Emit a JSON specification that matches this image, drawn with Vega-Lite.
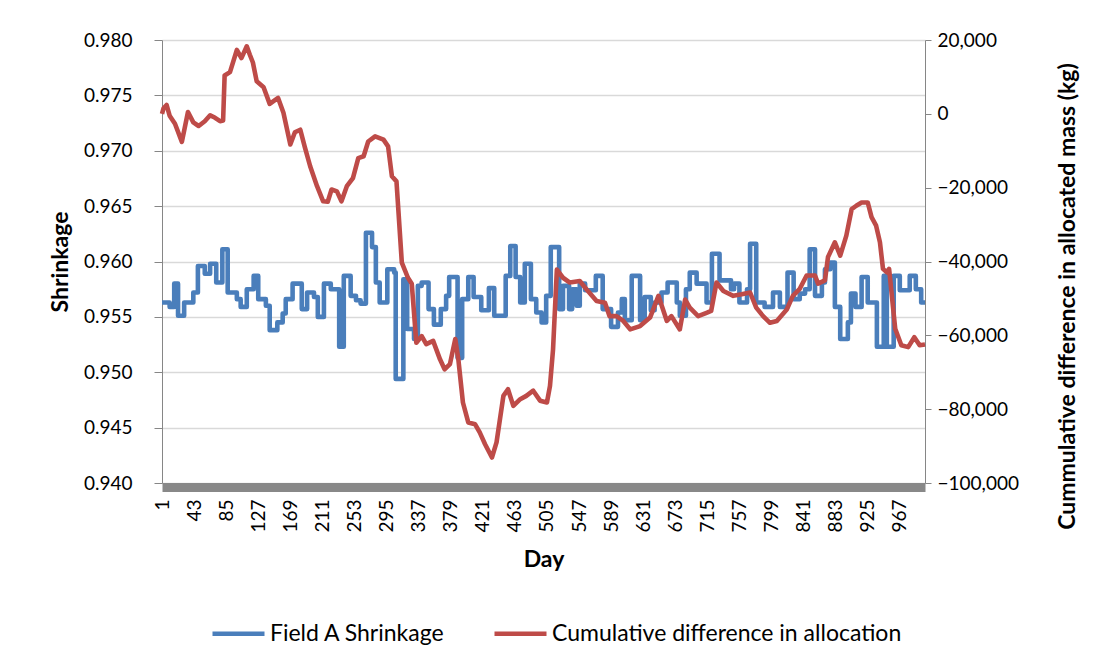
{
  "$schema": "https://vega.github.io/schema/vega-lite/v6.json",
  "width": 763,
  "height": 443,
  "autosize": {"type": "none"},
  "padding": {"left": 162, "top": 40, "right": 180, "bottom": 185},
  "background": "white",
  "config": {
    "font": "Lato",
    "view": {"stroke": null},
    "axis": {"labelColor": "#000000", "titleColor": "#000000"}
  },
  "datasets": {
    "shrink": [
      {"day": 1, "shrinkage": 0.9563}, {"day": 11, "shrinkage": 0.9559}, {"day": 17, "shrinkage": 0.958},
      {"day": 22, "shrinkage": 0.9551}, {"day": 30, "shrinkage": 0.9563}, {"day": 42, "shrinkage": 0.9572},
      {"day": 48, "shrinkage": 0.9596}, {"day": 57, "shrinkage": 0.9589}, {"day": 64, "shrinkage": 0.9598},
      {"day": 72, "shrinkage": 0.9581}, {"day": 80, "shrinkage": 0.9611}, {"day": 87, "shrinkage": 0.9572},
      {"day": 99, "shrinkage": 0.9566}, {"day": 104, "shrinkage": 0.9559}, {"day": 112, "shrinkage": 0.9575},
      {"day": 121, "shrinkage": 0.9587}, {"day": 127, "shrinkage": 0.9566}, {"day": 137, "shrinkage": 0.956},
      {"day": 142, "shrinkage": 0.9538}, {"day": 152, "shrinkage": 0.9545}, {"day": 159, "shrinkage": 0.9553},
      {"day": 163, "shrinkage": 0.9566}, {"day": 172, "shrinkage": 0.958}, {"day": 184, "shrinkage": 0.9557},
      {"day": 191, "shrinkage": 0.9572}, {"day": 200, "shrinkage": 0.9568}, {"day": 205, "shrinkage": 0.955},
      {"day": 213, "shrinkage": 0.958}, {"day": 222, "shrinkage": 0.9575}, {"day": 233, "shrinkage": 0.9523},
      {"day": 239, "shrinkage": 0.9587}, {"day": 248, "shrinkage": 0.9569}, {"day": 255, "shrinkage": 0.9565},
      {"day": 261, "shrinkage": 0.9562}, {"day": 268, "shrinkage": 0.9626}, {"day": 276, "shrinkage": 0.9613},
      {"day": 281, "shrinkage": 0.9581}, {"day": 286, "shrinkage": 0.9563}, {"day": 296, "shrinkage": 0.9593},
      {"day": 305, "shrinkage": 0.959}, {"day": 307, "shrinkage": 0.9494}, {"day": 317, "shrinkage": 0.9584},
      {"day": 322, "shrinkage": 0.9539}, {"day": 331, "shrinkage": 0.953}, {"day": 336, "shrinkage": 0.9578},
      {"day": 341, "shrinkage": 0.9581}, {"day": 350, "shrinkage": 0.9557}, {"day": 357, "shrinkage": 0.9543},
      {"day": 366, "shrinkage": 0.9557}, {"day": 373, "shrinkage": 0.9569}, {"day": 377, "shrinkage": 0.9586},
      {"day": 388, "shrinkage": 0.9513}, {"day": 394, "shrinkage": 0.9566}, {"day": 402, "shrinkage": 0.9586},
      {"day": 409, "shrinkage": 0.9568}, {"day": 419, "shrinkage": 0.9556}, {"day": 429, "shrinkage": 0.9576},
      {"day": 436, "shrinkage": 0.9551}, {"day": 451, "shrinkage": 0.9587}, {"day": 457, "shrinkage": 0.9614},
      {"day": 464, "shrinkage": 0.9586}, {"day": 470, "shrinkage": 0.9563}, {"day": 476, "shrinkage": 0.9598},
      {"day": 484, "shrinkage": 0.9566}, {"day": 491, "shrinkage": 0.9554}, {"day": 498, "shrinkage": 0.9545},
      {"day": 504, "shrinkage": 0.9569}, {"day": 510, "shrinkage": 0.9613}, {"day": 521, "shrinkage": 0.9557},
      {"day": 526, "shrinkage": 0.9578}, {"day": 534, "shrinkage": 0.9557}, {"day": 538, "shrinkage": 0.9575},
      {"day": 544, "shrinkage": 0.956}, {"day": 548, "shrinkage": 0.958}, {"day": 555, "shrinkage": 0.9574},
      {"day": 569, "shrinkage": 0.9587}, {"day": 578, "shrinkage": 0.9557}, {"day": 589, "shrinkage": 0.9541},
      {"day": 598, "shrinkage": 0.9554}, {"day": 603, "shrinkage": 0.9566}, {"day": 607, "shrinkage": 0.9547},
      {"day": 616, "shrinkage": 0.9587}, {"day": 627, "shrinkage": 0.9547}, {"day": 633, "shrinkage": 0.9568},
      {"day": 641, "shrinkage": 0.9556}, {"day": 646, "shrinkage": 0.9563}, {"day": 655, "shrinkage": 0.9572},
      {"day": 663, "shrinkage": 0.9581}, {"day": 675, "shrinkage": 0.9563}, {"day": 679, "shrinkage": 0.9551},
      {"day": 687, "shrinkage": 0.9575}, {"day": 692, "shrinkage": 0.959}, {"day": 701, "shrinkage": 0.958},
      {"day": 714, "shrinkage": 0.9563}, {"day": 721, "shrinkage": 0.9607}, {"day": 731, "shrinkage": 0.9583},
      {"day": 746, "shrinkage": 0.9575}, {"day": 750, "shrinkage": 0.958}, {"day": 757, "shrinkage": 0.9563},
      {"day": 767, "shrinkage": 0.9575}, {"day": 771, "shrinkage": 0.9616}, {"day": 779, "shrinkage": 0.9563},
      {"day": 790, "shrinkage": 0.9559}, {"day": 801, "shrinkage": 0.9572}, {"day": 810, "shrinkage": 0.9559},
      {"day": 820, "shrinkage": 0.959}, {"day": 828, "shrinkage": 0.9566}, {"day": 836, "shrinkage": 0.9571},
      {"day": 843, "shrinkage": 0.9575}, {"day": 849, "shrinkage": 0.9611}, {"day": 856, "shrinkage": 0.9569},
      {"day": 865, "shrinkage": 0.9581}, {"day": 869, "shrinkage": 0.9593}, {"day": 876, "shrinkage": 0.9599},
      {"day": 882, "shrinkage": 0.9559}, {"day": 889, "shrinkage": 0.953}, {"day": 899, "shrinkage": 0.9545},
      {"day": 903, "shrinkage": 0.9571}, {"day": 909, "shrinkage": 0.9559}, {"day": 917, "shrinkage": 0.9586},
      {"day": 925, "shrinkage": 0.9563}, {"day": 937, "shrinkage": 0.9523}, {"day": 946, "shrinkage": 0.9587},
      {"day": 950, "shrinkage": 0.9523}, {"day": 959, "shrinkage": 0.9587}, {"day": 967, "shrinkage": 0.9574},
      {"day": 980, "shrinkage": 0.9587}, {"day": 988, "shrinkage": 0.9575}, {"day": 995, "shrinkage": 0.9563},
      {"day": 1000, "shrinkage": 0.9563}
    ],
    "cum": [
      {"day": 1, "cumdiff": 0}, {"day": 3, "cumdiff": 1500}, {"day": 7, "cumdiff": 2400}, {"day": 11, "cumdiff": -500},
      {"day": 18, "cumdiff": -2700}, {"day": 27, "cumdiff": -7600}, {"day": 35, "cumdiff": 500}, {"day": 42, "cumdiff": -2300},
      {"day": 49, "cumdiff": -3300}, {"day": 57, "cumdiff": -2000}, {"day": 64, "cumdiff": -400}, {"day": 70, "cumdiff": -1000},
      {"day": 77, "cumdiff": -2000}, {"day": 81, "cumdiff": -1800}, {"day": 83, "cumdiff": 10400}, {"day": 90, "cumdiff": 11300},
      {"day": 99, "cumdiff": 17300}, {"day": 105, "cumdiff": 15100}, {"day": 112, "cumdiff": 18300}, {"day": 116, "cumdiff": 16000},
      {"day": 120, "cumdiff": 13900}, {"day": 125, "cumdiff": 8800}, {"day": 134, "cumdiff": 7200}, {"day": 142, "cumdiff": 2700},
      {"day": 153, "cumdiff": 4300}, {"day": 160, "cumdiff": 300}, {"day": 169, "cumdiff": -8300}, {"day": 175, "cumdiff": -5000},
      {"day": 182, "cumdiff": -4300}, {"day": 188, "cumdiff": -9000}, {"day": 195, "cumdiff": -14200}, {"day": 204, "cumdiff": -19600},
      {"day": 212, "cumdiff": -23700}, {"day": 218, "cumdiff": -23800}, {"day": 223, "cumdiff": -20500}, {"day": 230, "cumdiff": -21000},
      {"day": 236, "cumdiff": -23700}, {"day": 243, "cumdiff": -19600}, {"day": 251, "cumdiff": -17400}, {"day": 258, "cumdiff": -12000},
      {"day": 265, "cumdiff": -11500}, {"day": 271, "cumdiff": -7500}, {"day": 280, "cumdiff": -6100}, {"day": 291, "cumdiff": -7000},
      {"day": 297, "cumdiff": -8800}, {"day": 302, "cumdiff": -16900}, {"day": 308, "cumdiff": -18300}, {"day": 315, "cumdiff": -40300},
      {"day": 323, "cumdiff": -44400}, {"day": 328, "cumdiff": -46000}, {"day": 334, "cumdiff": -62000}, {"day": 341, "cumdiff": -60200},
      {"day": 347, "cumdiff": -62400}, {"day": 356, "cumdiff": -61500}, {"day": 365, "cumdiff": -66500}, {"day": 371, "cumdiff": -69200},
      {"day": 378, "cumdiff": -67800}, {"day": 385, "cumdiff": -61000}, {"day": 389, "cumdiff": -66500}, {"day": 395, "cumdiff": -78200},
      {"day": 402, "cumdiff": -83600}, {"day": 411, "cumdiff": -84100}, {"day": 417, "cumdiff": -86300}, {"day": 424, "cumdiff": -89500},
      {"day": 433, "cumdiff": -93100}, {"day": 439, "cumdiff": -89000}, {"day": 448, "cumdiff": -76400}, {"day": 454, "cumdiff": -74600},
      {"day": 461, "cumdiff": -79100}, {"day": 470, "cumdiff": -77300}, {"day": 478, "cumdiff": -76400}, {"day": 487, "cumdiff": -75000},
      {"day": 496, "cumdiff": -77700}, {"day": 505, "cumdiff": -78200}, {"day": 509, "cumdiff": -73700}, {"day": 513, "cumdiff": -63800},
      {"day": 518, "cumdiff": -42200}, {"day": 526, "cumdiff": -44400}, {"day": 535, "cumdiff": -45700}, {"day": 548, "cumdiff": -45300},
      {"day": 557, "cumdiff": -47600}, {"day": 570, "cumdiff": -50700}, {"day": 581, "cumdiff": -51200}, {"day": 587, "cumdiff": -54800},
      {"day": 596, "cumdiff": -54800}, {"day": 605, "cumdiff": -56100}, {"day": 614, "cumdiff": -58400}, {"day": 627, "cumdiff": -57500},
      {"day": 640, "cumdiff": -55200}, {"day": 651, "cumdiff": -49300}, {"day": 662, "cumdiff": -56100}, {"day": 668, "cumdiff": -54800},
      {"day": 679, "cumdiff": -58400}, {"day": 686, "cumdiff": -50300}, {"day": 692, "cumdiff": -52500}, {"day": 703, "cumdiff": -54800},
      {"day": 714, "cumdiff": -53900}, {"day": 720, "cumdiff": -53400}, {"day": 727, "cumdiff": -45700}, {"day": 736, "cumdiff": -48000},
      {"day": 749, "cumdiff": -49300}, {"day": 760, "cumdiff": -48900}, {"day": 771, "cumdiff": -48400}, {"day": 779, "cumdiff": -52500},
      {"day": 788, "cumdiff": -54800}, {"day": 797, "cumdiff": -56600}, {"day": 806, "cumdiff": -56100}, {"day": 819, "cumdiff": -53000},
      {"day": 827, "cumdiff": -49300}, {"day": 836, "cumdiff": -47400}, {"day": 845, "cumdiff": -43800}, {"day": 856, "cumdiff": -43800},
      {"day": 860, "cumdiff": -46000}, {"day": 869, "cumdiff": -45100}, {"day": 873, "cumdiff": -38800}, {"day": 882, "cumdiff": -34800},
      {"day": 889, "cumdiff": -38400}, {"day": 897, "cumdiff": -33000}, {"day": 904, "cumdiff": -25800}, {"day": 910, "cumdiff": -24900},
      {"day": 917, "cumdiff": -24000}, {"day": 925, "cumdiff": -24000}, {"day": 930, "cumdiff": -28000}, {"day": 936, "cumdiff": -30300},
      {"day": 941, "cumdiff": -34800}, {"day": 945, "cumdiff": -42000}, {"day": 950, "cumdiff": -42900}, {"day": 953, "cumdiff": -42000},
      {"day": 961, "cumdiff": -58200}, {"day": 969, "cumdiff": -62700}, {"day": 978, "cumdiff": -63200}, {"day": 986, "cumdiff": -60500},
      {"day": 993, "cumdiff": -62700}, {"day": 1000, "cumdiff": -62500}
    ]
  },
  "encoding": {
    "x": {
      "field": "day", "type": "quantitative",
      "scale": {"domain": [1, 1000], "nice": false, "zero": false},
      "axis": {
        "values": [1, 43, 85, 127, 169, 211, 253, 295, 337, 379, 421, 463, 505, 547, 589, 631, 673, 715, 757, 799, 841, 883, 925, 967],
        "labelAngle": 270, "labelAlign": "right", "labelBaseline": "middle",
        "labelFontSize": 19, "labelPadding": 12, "labelFlush": false, "labelOverlap": false, "labelBound": false,
        "ticks": false, "tickSize": 0, "grid": false,
        "domainColor": "#888888", "domainWidth": 9, "offset": 4,
        "title": "Day", "titleFontSize": 23, "titleFontWeight": "bold", "titlePadding": 16
      }
    }
  },
  "layer": [
    {
      "data": {"name": "shrink"},
      "mark": {"type": "line", "interpolate": "step-after", "strokeWidth": 4.6, "strokeJoin": "round"},
      "encoding": {
        "y": {
          "field": "shrinkage", "type": "quantitative",
          "scale": {"domain": [0.94, 0.98], "nice": false, "zero": false},
          "axis": {
            "values": [0.94, 0.945, 0.95, 0.955, 0.96, 0.965, 0.97, 0.975, 0.98],
            "format": ".3f", "labelFontSize": 19, "labelPadding": 22,
            "tickSize": 8, "tickColor": "#868686", "domainColor": "#868686",
            "grid": true, "gridColor": "#d9d9d9", "gridWidth": 1.3,
            "title": "Shrinkage", "titleFontSize": 23, "titleFontWeight": "bold", "titlePadding": 11
          }
        },
        "color": {
          "datum": "Field A Shrinkage",
          "scale": {"domain": ["Field A Shrinkage", "Cumulative difference in allocation"], "range": ["#4a7ebb", "#be4b48"]},
          "legend": {
            "orient": "none", "legendX": 48, "legendY": 565, "direction": "horizontal",
            "title": null, "symbolType": "stroke", "symbolStrokeWidth": 4.6, "symbolSize": 2704,
            "labelFontSize": 23, "labelOffset": 3, "labelLimit": 600, "columnPadding": 39, "labelColor": "#000000"
          }
        }
      }
    },
    {
      "data": {"name": "cum"},
      "mark": {"type": "line", "strokeWidth": 4.6, "strokeJoin": "round"},
      "encoding": {
        "y": {
          "field": "cumdiff", "type": "quantitative",
          "scale": {"domain": [-100000, 20000], "nice": false, "zero": false},
          "axis": {
            "orient": "right",
            "values": [-100000, -80000, -60000, -40000, -20000, 0, 20000],
            "format": ",.0f", "labelFontSize": 19, "labelPadding": 6,
            "tickSize": 6, "tickColor": "#868686", "domainColor": "#868686", "grid": false,
            "title": "Cummulative difference in allocated mass (kg)", "titleFontSize": 23, "titleFontWeight": "bold",
            "titleAngle": 270, "titleX": 142, "titleY": 256, "titleAlign": "center", "titleBaseline": "middle"
          }
        },
        "color": {"datum": "Cumulative difference in allocation"}
      }
    }
  ],
  "resolve": {"scale": {"y": "independent"}}
}
